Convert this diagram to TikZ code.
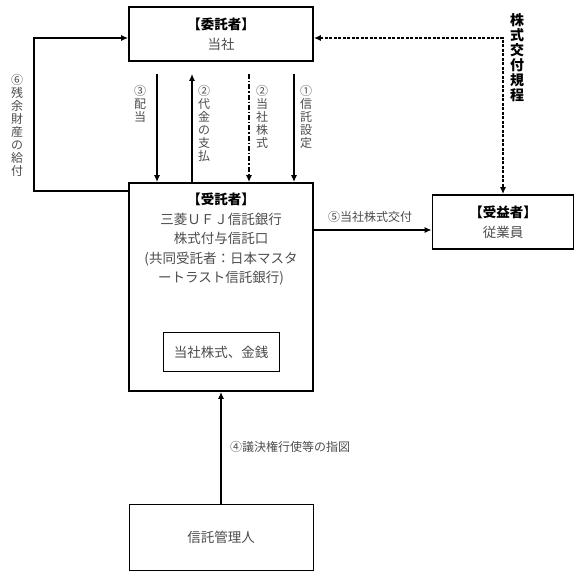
\documentclass[tikz,border=0pt]{standalone}
\usepackage{fontspec}
\setmainfont{Noto Sans CJK JP}
\usetikzlibrary{arrows.meta,positioning}
\newcommand{\hd}[1]{{\color{black}\bfseries #1}}

\begin{document}
\begin{tikzpicture}[x=1pt,y=-1pt,
    box/.style={draw,line width=1.8pt,align=center,inner sep=0pt,text=black!70,font=\fontsize{13.5}{20}\selectfont},
    thinbox/.style={draw,line width=1pt,align=center,inner sep=0pt,text=black!70,font=\fontsize{13.5}{20}\selectfont},
    arr/.style={line width=1.3pt,-{Latex[length=7pt,width=6pt]}},
    darr/.style={line width=1.3pt,dash pattern=on 3pt off 1.5pt,{Latex[length=7pt,width=6pt]}-{Latex[length=7pt,width=6pt]}},
    lbl/.style={text=black!70,font=\fontsize{12}{13}\selectfont,align=center,inner sep=0pt}]
  \useasboundingbox (0,0) rectangle (578,578);
  % boxes
  \node[box,minimum width=184pt,minimum height=54pt] (itaku) at (221,34) {\hd{【委託者】}\\当社};
  \node[box,minimum width=184pt,minimum height=208pt] (jutaku) at (221,287) {};
  \node[box,draw=none,anchor=north,line width=0pt,font=\fontsize{13.5}{19.5}\selectfont] (jutakutext) at ([yshift=-11pt]jutaku.north) {\hd{【受託者】}\\三菱ＵＦＪ信託銀行\\株式付与信託口\\(共同受託者：日本マスタ\\ートラスト信託銀行)};
  \node[thinbox,minimum width=116pt,minimum height=39pt] (zaisan) at (221,352) {当社株式、金銭};
  \node[box,minimum width=141pt,minimum height=54pt] (jueki) at (503,222) {\hd{【受益者】}\\従業員};
  \node[thinbox,minimum width=184pt,minimum height=66pt] (kanri) at (221,537) {信託管理人};
  % arrows between itaku and jutaku
  \draw[arr] ([xshift=-64pt,yshift=-12pt]itaku.south) -- ([xshift=-64pt]jutaku.north);
  \draw[arr] ([xshift=-29pt]jutaku.north) -- ([xshift=-29pt,yshift=-12pt]itaku.south);
  \draw[arr,dash pattern=on 5pt off 2pt on 1.3pt off 2pt] ([xshift=28pt,yshift=-12pt]itaku.south) -- ([xshift=28pt]jutaku.north);
  \draw[arr] ([xshift=73pt,yshift=-12pt]itaku.south) -- ([xshift=73pt]jutaku.north);
  \draw[arr] ([yshift=-9pt]jutaku.north west) -- ++(-94,0) |- ([yshift=-4pt]itaku.west);
  \draw[darr] ([yshift=-4pt]itaku.east) -| (jueki.north);
  \coordinate (c5) at ([yshift=-8pt]jueki.west);
  \draw[arr] (c5 -| jutaku.east) -- (c5);
  \draw[arr] (kanri.north) -- (jutaku.south);
  % labels
  \node[lbl] (l6) at (17,125) {⑥\\残\\余\\財\\産\\の\\給\\付};
  \node[lbl,anchor=north] (l3) at (140,85) {③\\配\\当};
  \node[lbl,anchor=north] (l2a) at (204,85) {②\\代\\金\\の\\支\\払};
  \node[lbl,anchor=north] (l2b) at (262,85) {②\\当\\社\\株\\式};
  \node[lbl,anchor=north] (l1) at (306,85) {①\\信\\託\\設\\定};
  \node[lbl,text=black,font=\bfseries\fontsize{14}{15}\selectfont] (kitei) at (517,58) {株\\式\\交\\付\\規\\程};
  \node[lbl] (l5) at (370,217) {⑤当社株式交付};
  \node[lbl,anchor=west] (l4) at (230,447) {④議決権行使等の指図};
\end{tikzpicture}
\end{document}
